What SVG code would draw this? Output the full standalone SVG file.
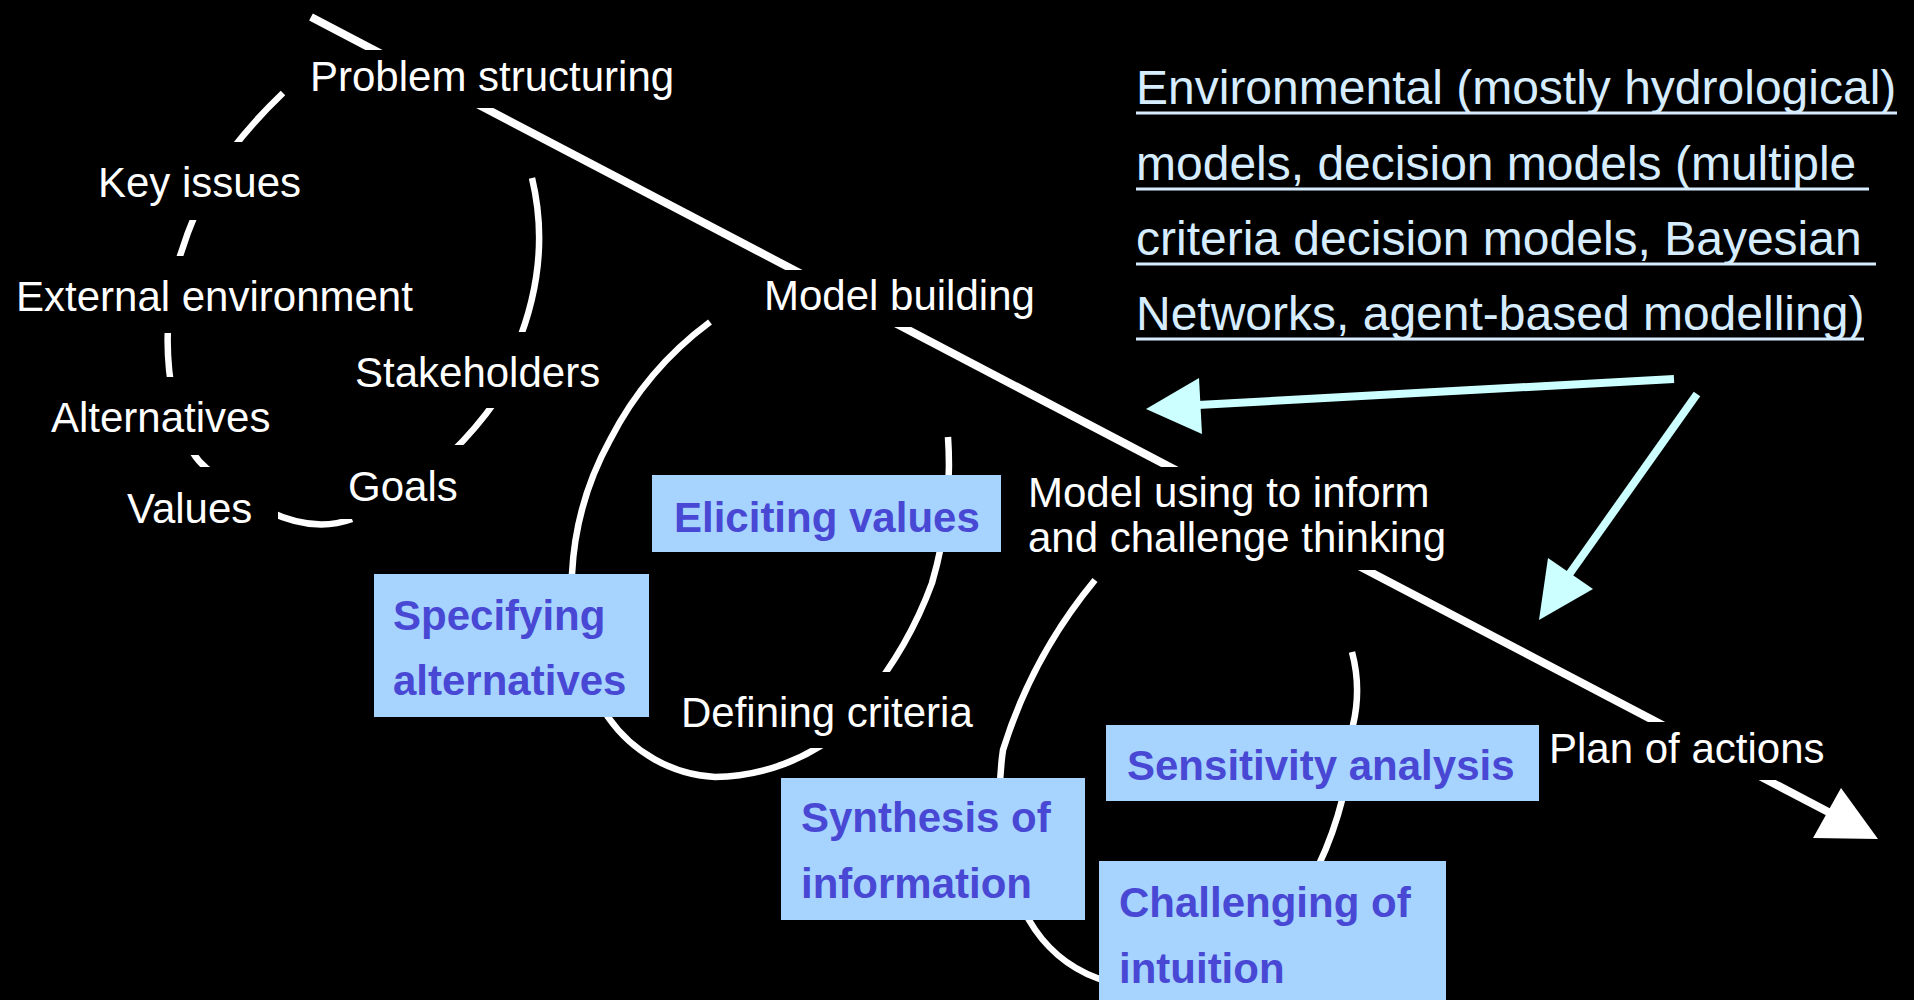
<svg xmlns="http://www.w3.org/2000/svg" width="1914" height="1000" viewBox="0 0 1914 1000">
<style>
.lbl{font-family:"Liberation Sans",Arial,sans-serif;font-size:42px;fill:#ffffff}
.cover{fill:#000000}
.box{fill:#a6d4ff}
.btx{font-family:"Liberation Sans",Arial,sans-serif;font-weight:bold;font-size:42px;fill:#4848d4}
.arc{fill:none;stroke:#ffffff;stroke-width:6.5}
.main{fill:none;stroke:#ffffff;stroke-width:8}
.cy{fill:none;stroke:#ccffff;stroke-width:8}
.mtx{font-family:"Liberation Sans",Arial,sans-serif;font-size:48px;fill:#d6ecff}
.ul{stroke:#d6ecff;stroke-width:3}
</style>
<rect x="0" y="0" width="1914" height="1000" fill="#000000"/>
<g id="connectors">
  <line class="main" x1="311" y1="17" x2="1836" y2="816"/>
  <polygon points="1841,788 1813,838 1878,839" fill="#ffffff"/>
  <!-- problem structuring loop -->
  <path class="arc" d="M283,93 Q254.3,120.3 230,152"/>
  <path class="arc" d="M197,210 Q185,238 177,266"/>
  <path class="arc" d="M168,325 Q166.5,355 171,385"/>
  <path class="arc" d="M188,443 Q196.5,463.5 215,474"/>
  <path class="arc" d="M268,511 Q314,533 352,519"/>
  <path class="arc" d="M497,399 Q476,429 451,453"/>
  <path class="arc" d="M516,348 Q552,261 532,178"/>
  <!-- model building loop -->
  <path class="arc" d="M710,322 A338,338 0 0 0 610,440 A310,310 0 0 0 572,574 A260,260 0 0 0 608,717 A140,140 0 0 0 715,777 A204,204 0 0 0 845,728"/>
  <path class="arc" d="M865,700 A400,400 0 0 0 932,583 A420,420 0 0 0 948,437"/>
  <!-- model using loop -->
  <path class="arc" d="M1095,580 A500,500 0 0 0 1003,750 A295,295 0 0 0 1029,920 A132,132 0 0 0 1097,978 A150,150 0 0 0 1135,988"/>
  <path class="arc" d="M1300,900 A370,370 0 0 0 1353,725 A150,150 0 0 0 1352,652"/>
  <!-- cyan arrows -->
  <line class="cy" x1="1674" y1="379" x2="1198" y2="405"/>
  <polygon points="1146,409 1199,378 1202,434" fill="#ccffff"/>
  <line class="cy" x1="1697" y1="394" x2="1568" y2="576"/>
  <polygon points="1539,620 1548,558 1593,589" fill="#ccffff"/>
</g>
<g id="problem-structuring"><rect class="cover" x="300" y="50" width="390" height="58"/><text class="lbl" x="310" y="91">Problem structuring</text></g>
<g id="key-issues"><rect class="cover" x="88" y="142" width="224" height="78"/><text class="lbl" x="98" y="197">Key issues</text></g>
<g id="external-environment"><rect class="cover" x="5" y="256" width="420" height="77"/><text class="lbl" x="16" y="311">External environment</text></g>
<g id="stakeholders"><rect class="cover" x="345" y="332" width="270" height="76"/><text class="lbl" x="355" y="387">Stakeholders</text></g>
<g id="alternatives"><rect class="cover" x="40" y="377" width="245" height="78"/><text class="lbl" x="51" y="432">Alternatives</text></g>
<g id="goals"><rect class="cover" x="327" y="445" width="143" height="74"/><text class="lbl" x="348" y="501">Goals</text></g>
<g id="values"><rect class="cover" x="118" y="467" width="160" height="78"/><text class="lbl" x="127" y="523">Values</text></g>
<g id="model-building"><rect class="cover" x="750" y="270" width="300" height="57"/><text class="lbl" x="764" y="310">Model building</text></g>
<g id="model-using"><rect class="cover" x="1020" y="467" width="440" height="103"/><text class="lbl" x="1028" y="507">Model using to inform</text><text class="lbl" x="1028" y="552">and challenge thinking</text></g>
<g id="defining-criteria"><rect class="cover" x="668" y="672" width="322" height="76"/><text class="lbl" x="681" y="727">Defining criteria</text></g>
<g id="plan-of-actions"><rect class="cover" x="1540" y="722" width="300" height="58"/><text class="lbl" x="1549" y="763">Plan of actions</text></g>
<g id="eliciting-values"><rect class="box" x="652" y="475" width="349" height="77"/><text class="btx" x="674" y="532">Eliciting values</text></g>
<g id="specifying-alternatives"><rect class="box" x="374" y="574" width="275" height="143"/><text class="btx" x="393" y="630">Specifying</text><text class="btx" x="393" y="695">alternatives</text></g>
<g id="synthesis-of-information"><rect class="box" x="781" y="778" width="304" height="142"/><text class="btx" x="801" y="832">Synthesis of</text><text class="btx" x="801" y="898">information</text></g>
<g id="sensitivity-analysis"><rect class="box" x="1106" y="725" width="433" height="76"/><text class="btx" x="1127" y="780">Sensitivity analysis</text></g>
<g id="challenging-of-intuition"><rect class="box" x="1099" y="861" width="347" height="145"/><text class="btx" x="1119" y="917">Challenging of</text><text class="btx" x="1119" y="983">intuition</text></g>
<g id="models-note">
  <text class="mtx" x="1136" y="104">Environmental (mostly hydrological)</text>
  <text class="mtx" x="1136" y="180">models, decision models (multiple</text>
  <text class="mtx" x="1136" y="255">criteria decision models, Bayesian</text>
  <text class="mtx" x="1136" y="330">Networks, agent-based modelling)</text>
  <line class="ul" x1="1136" y1="113" x2="1897" y2="113"/>
  <line class="ul" x1="1136" y1="189" x2="1869" y2="189"/>
  <line class="ul" x1="1136" y1="264" x2="1876" y2="264"/>
  <line class="ul" x1="1136" y1="339" x2="1864" y2="339"/>
</g>
</svg>
